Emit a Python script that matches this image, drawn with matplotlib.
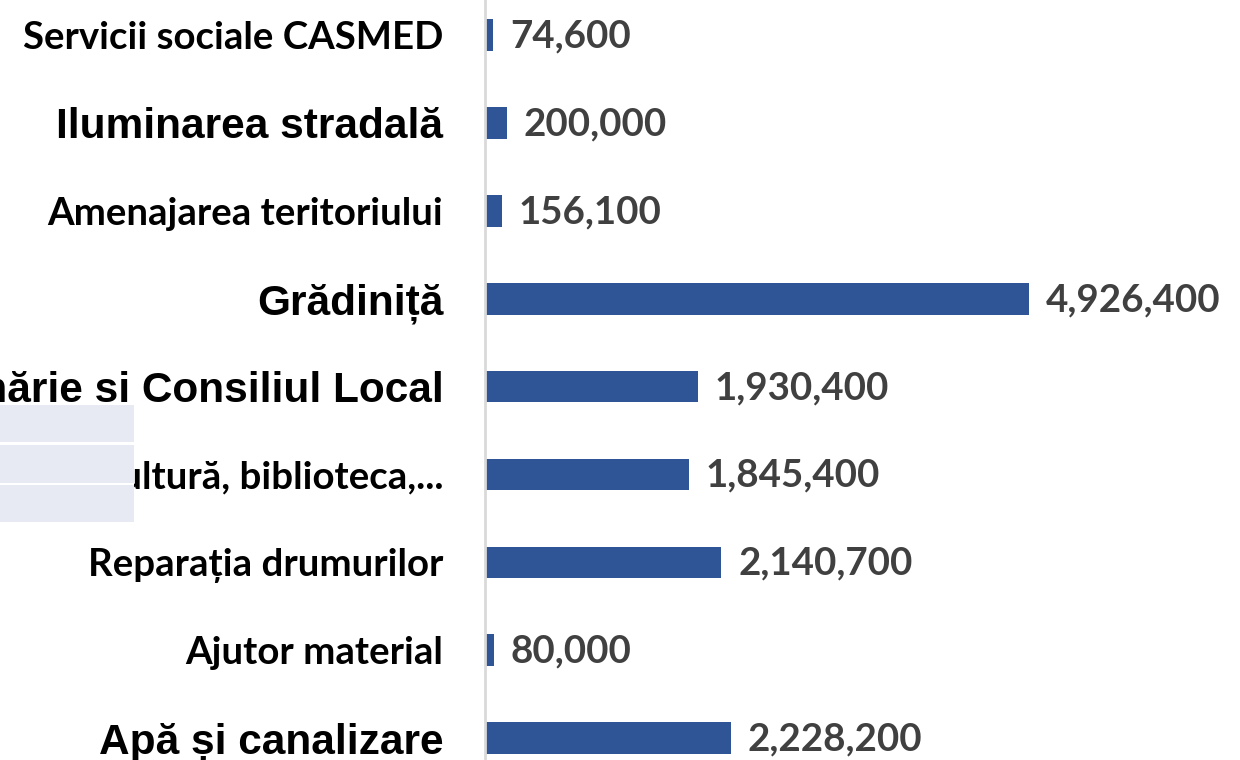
import matplotlib
matplotlib.use("Agg")
import matplotlib.pyplot as plt
from matplotlib.patches import Rectangle

categories = [
    "Servicii sociale CASMED",
    "Iluminarea stradală",
    "Amenajarea teritoriului",
    "Grădiniță",
    "Primărie si Consiliul Local",
    "Cultură, biblioteca,...",
    "Reparația drumurilor",
    "Ajutor material",
    "Apă și canalizare",
]
values = [74600, 200000, 156100, 4926400, 1930400, 1845400, 2140700, 80000, 2228200]
value_labels = ["74,600", "200,000", "156,100", "4,926,400", "1,930,400",
                "1,845,400", "2,140,700", "80,000", "2,228,200"]
# True = Arial-like larger label, False = Calibri-like label
arial_style = [False, True, False, True, True, False, False, False, True]

W, H = 1240, 760
fig = plt.figure(figsize=(W / 100, H / 100), dpi=100)
ax = fig.add_axes([485 / W, 0, 1 - 485 / W, 1])

ypos = list(range(len(categories)))
ax.barh(ypos, values, height=0.36, color="#2F5597", zorder=2)

px_per_unit = 544 / 4926400
ax.set_xlim(0, (W - 485) / px_per_unit)
row_px = 87.9
ax.set_ylim((H - 35) / row_px, -35 / row_px)

for s in ["top", "right", "bottom"]:
    ax.spines[s].set_visible(False)
ax.spines["left"].set_color("#D9D9D9")
ax.spines["left"].set_linewidth(2)
ax.set_xticks([])
ax.set_yticks(ypos)
ax.set_yticklabels(categories)
ax.tick_params(axis="y", length=0, pad=30)
for lbl, isarial in zip(ax.get_yticklabels(), arial_style):
    if isarial:
        lbl.set_fontfamily("Liberation Sans")
        lbl.set_fontsize(30.5)
    else:
        lbl.set_fontfamily("Lato")
        lbl.set_fontsize(27.6)
    lbl.set_fontweight("bold")
    lbl.set_color("black")

for y, v, t in zip(ypos, values, value_labels):
    ax.annotate(t, (v, y), xytext=(12, -1), textcoords="offset points",
                ha="left", va="center", fontsize=27.7, fontweight="bold",
                family="Lato", color="#404040")

# overlay table-like block (white backing with lavender cells)
fig.patches.append(Rectangle((0, 1 - 524 / H), 134 / W, (524 - 403) / H,
                             transform=fig.transFigure, facecolor="white",
                             edgecolor="none", zorder=9))
for y0, y1 in [(405, 442), (445, 483), (485, 522)]:
    fig.patches.append(Rectangle((0, 1 - y1 / H), 134 / W, (y1 - y0) / H,
                                 transform=fig.transFigure, facecolor="#E8EAF3",
                                 edgecolor="none", zorder=10))

fig.savefig("out.png", dpi=100)
